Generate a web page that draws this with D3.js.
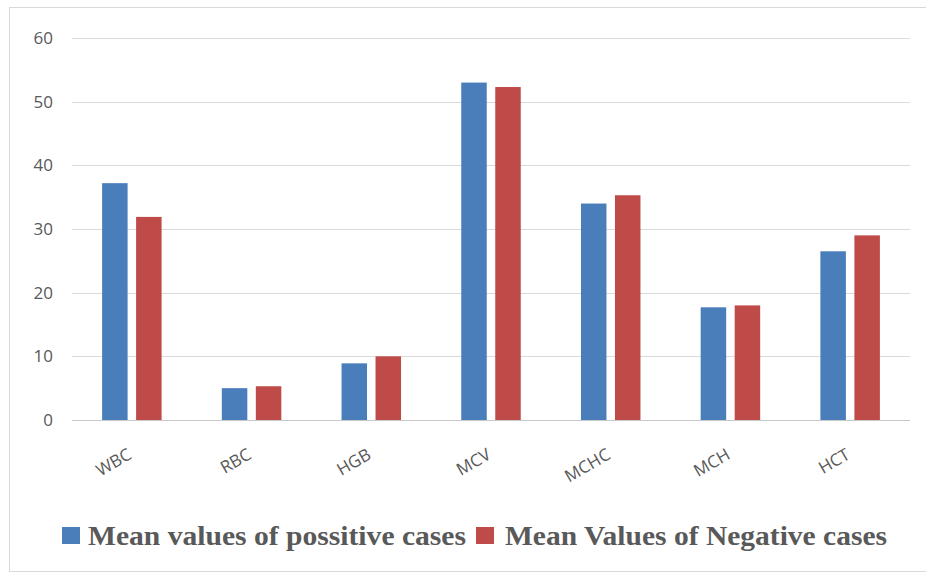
<!DOCTYPE html>
<html>
<head>
<meta charset="utf-8">
<script src="https://cdn.jsdelivr.net/npm/d3@7"></script>
<style>
  html, body { margin: 0; padding: 0; background: #fff; }
  svg { display: block; }
</style>
</head>
<body>
<svg id="chart" width="926" height="578"></svg>
<script>
// Blood parameters compared between positive and negative cases
const categories = ["WBC", "RBC", "HGB", "MCV", "MCHC", "MCH", "HCT"];
const positiveMeans = [37.2, 5.0, 8.9, 53.0, 34.0, 17.7, 26.5];
const negativeMeans = [31.9, 5.3, 10.0, 52.3, 35.3, 18.0, 29.0];
const seriesNames = ["Mean values of possitive cases", "Mean Values of Negative cases"];
const yTicks = [0, 10, 20, 30, 40, 50, 60];

const colors = ["#4a7ebb", "#be4b48"];
const textColor = "#595959";

const svg = d3.select("#chart");
const plot = { left: 72, right: 910, top: 38, bottom: 420 };

// outer chart frame
svg.append("rect")
  .attr("x", 9.5).attr("y", 7.5)
  .attr("width", 930).attr("height", 564)
  .attr("fill", "#fff").attr("stroke", "#d9d9d9").attr("stroke-width", 1);

const x = d3.scaleBand().domain(categories).range([plot.left, plot.right]);
const y = d3.scaleLinear().domain([0, 60]).range([plot.bottom, plot.top]);

// horizontal gridlines
svg.append("g")
  .selectAll("line")
  .data(yTicks)
  .join("line")
  .attr("x1", plot.left).attr("x2", plot.right)
  .attr("y1", d => Math.round(y(d)) + 0.5).attr("y2", d => Math.round(y(d)) + 0.5)
  .attr("stroke", d => d === 0 ? "#c8c8c8" : "#dadada")
  .attr("stroke-width", 1);

// y axis labels
const yAxis = d3.axisLeft(y).tickValues(yTicks).tickSize(0).tickPadding(0);
const yg = svg.append("g")
  .attr("transform", `translate(${plot.left - 19},0)`)
  .call(yAxis);
yg.select(".domain").remove();
yg.selectAll("text")
  .attr("fill", textColor)
  .style("font-family", "'Open Sans', 'Liberation Sans', sans-serif")
  .style("font-size", "17px");

// grouped bars
const barW = 25.5, gap = 8.5;
const groups = svg.append("g")
  .selectAll("g")
  .data(categories)
  .join("g")
  .attr("transform", d => `translate(${x(d) + x.bandwidth() / 2},0)`);

[positiveMeans, negativeMeans].forEach((vals, s) => {
  groups.append("rect")
    .attr("x", s === 0 ? -(gap / 2 + barW) : gap / 2)
    .attr("width", barW)
    .attr("y", (d, i) => y(vals[i]))
    .attr("height", (d, i) => y(0) - y(vals[i]))
    .attr("fill", colors[s]);
});

// rotated category labels
const xAxis = d3.axisBottom(x).tickSize(0).tickPadding(0);
const xg = svg.append("g")
  .attr("transform", `translate(0,${plot.bottom})`)
  .call(xAxis);
xg.select(".domain").remove();
xg.selectAll("text")
  .attr("fill", textColor)
  .style("font-family", "'Open Sans', 'Liberation Sans', sans-serif")
  .style("font-size", "17px")
  .attr("text-anchor", "end")
  .attr("dy", 0)
  .attr("transform", "translate(1,38) rotate(-30)");

// legend
const legend = svg.append("g");
const legendItems = [
  { sq: 62, tx: 88, w: 378 },
  { sq: 476, tx: 505, w: 382 }
];
seriesNames.forEach((name, i) => {
  legend.append("rect")
    .attr("x", legendItems[i].sq).attr("y", 527)
    .attr("width", 18).attr("height", 17)
    .attr("fill", colors[i]);
  legend.append("text")
    .attr("x", legendItems[i].tx).attr("y", 545)
    .attr("fill", textColor)
    .style("font-family", "'Liberation Serif', 'Times New Roman', serif")
    .style("font-weight", "bold")
    .style("font-size", "28px")
    .attr("textLength", legendItems[i].w)
    .attr("lengthAdjust", "spacingAndGlyphs")
    .text(name);
});
</script>
</body>
</html>
